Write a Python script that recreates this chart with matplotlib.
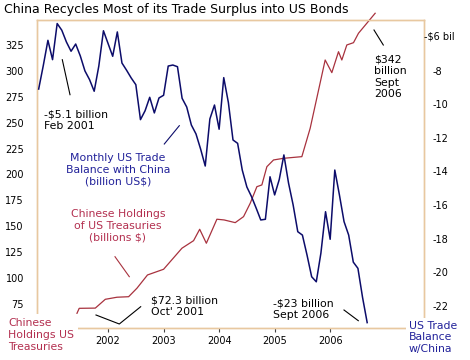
import matplotlib
matplotlib.use("Agg")
import matplotlib.pyplot as plt
from matplotlib.lines import Line2D
import numpy as np

# monthly US trade balance with China, billion US$, Oct 2000 .. Sep 2006
trade_start = 2000.75
trade_balance = [
    -9.1, -7.7, -6.2,
    -7.35, -5.2, -5.6, -6.3, -6.85, -6.42, -7.13, -8.02, -8.54, -9.23, -7.73, -5.63,
    -6.39, -7.15, -5.7, -7.55, -7.98, -8.44, -8.84, -10.92, -10.39, -9.59, -10.52, -9.63,
    -9.47, -7.73, -7.67, -7.77, -9.65, -10.17, -11.24, -11.77, -12.67, -13.68, -10.88, -10.05,
    -11.49, -8.42, -9.9, -12.13, -12.33, -13.92, -14.93, -15.5, -16.18, -16.89, -16.85, -14.32,
    -15.4, -14.48, -13.02, -14.69, -16.0, -17.59, -17.79, -18.98, -20.27, -20.57, -18.86, -16.4,
    -18.04, -13.92, -15.4, -16.99, -17.79, -19.4, -19.77, -21.5, -23.0,
]

# Chinese holdings of US Treasuries, billion $
holdings_dates = [
    2001.44, 2001.48, 2001.77, 2001.95, 2002.16, 2002.37, 2002.52, 2002.71, 2003.0,
    2003.33, 2003.54, 2003.65, 2003.77, 2003.96, 2004.09, 2004.29, 2004.44, 2004.56,
    2004.68, 2004.77, 2004.86, 2004.98, 2005.16, 2005.49, 2005.64, 2005.91, 2006.03,
    2006.15, 2006.21, 2006.3, 2006.42, 2006.51, 2006.81,
]
holdings = [
    66.0, 70.8, 71.0, 79.5, 81.5, 82.0, 90.2, 103.0, 108.5,
    128.8, 136.1, 147.1, 133.6, 156.8, 156.1, 153.5, 159.3, 172.2,
    188.2, 189.9, 207.5, 214.0, 215.6, 217.2, 244.6, 310.5, 298.3,
    318.5, 310.5, 325.0, 327.2, 336.3, 355.6,
]

left_ticks = [75, 100, 125, 150, 175, 200, 225, 250, 275, 300, 325]
right_ticks = [-22, -20, -18, -16, -14, -12, -10, -8]
year_ticks = [2002, 2003, 2004, 2005, 2006]

BLUE = "#0c0c6a"
BLUE_TXT = "#22229a"
RED = "#a8323e"
RED_TXT = "#b33050"
TAN = "#e8c8a0"

W, H = 470, 360
fig = plt.figure(figsize=(W / 100, H / 100), dpi=100)
ax = fig.add_axes([37 / W, 1 - 328 / H, 387 / W, 308 / H])
ax2 = ax.twinx()


def px(x, y):
    return x / W, 1 - y / H


trade_x = trade_start + np.arange(len(trade_balance)) / 12
ax.plot(holdings_dates, holdings, color=RED, lw=0.9, clip_on=False, zorder=3)
ax2.plot(trade_x, trade_balance, color=BLUE, lw=1.1, zorder=3)

ax.set_xlim(2000.72, 2007.69)
ax.set_ylim(51.8, 349.1)
ax2.set_ylim(-23.32, -4.99)

ax.set_xticks(year_ticks)
ax.set_xticklabels([str(y) for y in year_ticks])
ax.set_yticks(left_ticks)
ax2.set_yticks(right_ticks)
ax2.set_yticklabels([str(v) for v in right_ticks])

ax.tick_params(axis="x", length=3, width=0.8, color="#444444", pad=3, labelsize=7)
ax.tick_params(axis="y", length=0, pad=9.4, labelsize=7)
ax2.tick_params(axis="y", length=0, pad=5.8, labelsize=7)
for a in (ax, ax2):
    for s in a.spines.values():
        s.set_color(TAN)
        s.set_linewidth(1.0)

ax2.text(1.0, -6, "-$6 bil", transform=ax2.get_yaxis_transform(),
         ha="left", va="center", fontsize=7)

fig.text(*px(4, 10), "China Recycles Most of its Trade Surplus into US Bonds",
         fontsize=9, ha="left", va="center")

fs = 7.8
fig.text(*px(44, 120.5), "-$5.1 billion\nFeb 2001", fontsize=fs, ha="left", va="center")
fig.text(*px(118, 170), "Monthly US Trade\nBalance with China\n(billion US$)",
         fontsize=fs, ha="center", va="center", color=BLUE_TXT, multialignment="center")
fig.text(*px(118, 226), "Chinese Holdings\nof US Treasuries\n(billions $)",
         fontsize=fs, ha="center", va="center", color=RED_TXT, multialignment="center")
fig.text(*px(151, 306.5), "$72.3 billion\nOct' 2001", fontsize=fs, ha="left", va="center")
fig.text(*px(273, 309), "-$23 billion\nSept 2006", fontsize=fs, ha="left", va="center")
fig.text(*px(374, 77), "$342\nbillion\nSept\n2006", fontsize=fs, ha="left", va="center")
fig.text(*px(8, 335), "Chinese\nHoldings US\nTreasuries", fontsize=fs, ha="left",
         va="center", color=RED_TXT, zorder=10,
         bbox=dict(facecolor="white", edgecolor="none", pad=3))
fig.text(*px(409, 337.5), "US Trade\nBalance\nw/China", fontsize=fs, ha="left",
         va="center", color=BLUE_TXT, zorder=10,
         bbox=dict(facecolor="white", edgecolor="none", pad=2))

# leader lines
leaders = [
    ([(62.3, 59.7), (70, 94.7)], "black"),
    ([(164.3, 144), (179.3, 125.7)], BLUE),
    ([(115, 256.7), (129.3, 276.7)], RED),
    ([(96, 315), (119.3, 324), (140.7, 306.7)], "black"),
    ([(344, 310), (358.3, 320.7)], "black"),
    ([(374, 30), (383.3, 45)], "black"),
]
for pts, c in leaders:
    xs, ys = zip(*[px(x, y) for x, y in pts])
    fig.add_artist(Line2D(xs, ys, color=c, lw=0.8, transform=fig.transFigure))

fig.savefig("out.png", dpi=100)
